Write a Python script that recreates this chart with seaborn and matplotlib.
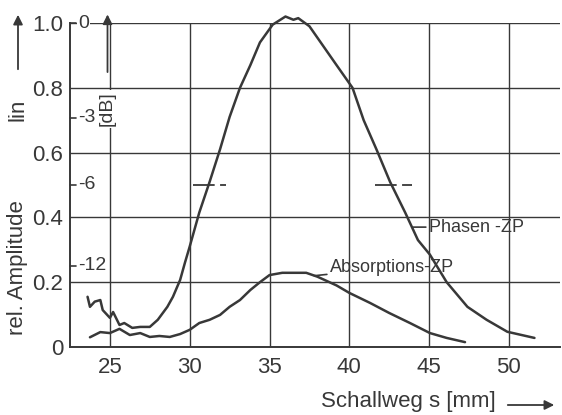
import numpy as np
import pandas as pd
import matplotlib
matplotlib.use("Agg")
import matplotlib.pyplot as plt
import seaborn as sns

# Phasen-ZP curve
phasen_s = [23.6, 23.75, 24.05, 24.4, 24.55, 25.0, 25.2, 25.6, 25.9, 26.4, 26.9, 27.5,
            28.0, 28.6, 28.95, 29.4, 29.7, 30.0, 30.6, 31.25, 31.9, 32.5, 33.15, 33.8,
            34.4, 35.2, 36.0, 36.5, 36.8, 37.5, 38.35, 39.2, 40.2, 40.9, 41.7, 42.55,
            43.5, 44.3, 45.05, 46.1, 47.4, 48.6, 49.9, 51.6]
phasen_a = [0.155, 0.124, 0.14, 0.145, 0.114, 0.09, 0.108, 0.068, 0.074, 0.059, 0.062, 0.062,
            0.084, 0.124, 0.155, 0.207, 0.26, 0.31, 0.415, 0.51, 0.61, 0.71, 0.80, 0.87,
            0.94, 0.995, 1.02, 1.01, 1.015, 0.99, 0.93, 0.87, 0.80, 0.70, 0.61, 0.51,
            0.415, 0.33, 0.285, 0.20, 0.124, 0.084, 0.047, 0.028]

# Absorptions-ZP curve
absorp_s = [23.75, 24.4, 25.0, 25.6, 26.25, 26.9, 27.5, 28.1, 28.75, 29.4, 30.0, 30.6,
            31.25, 31.9, 32.5, 33.15, 33.8, 34.4, 35.0, 35.8, 36.5, 37.3, 38.0, 39.2,
            40.0, 41.3, 42.5, 43.8, 45.05, 46.1, 47.25]
absorp_a = [0.03, 0.046, 0.043, 0.056, 0.037, 0.043, 0.031, 0.034, 0.031, 0.040, 0.053, 0.074,
            0.084, 0.099, 0.124, 0.145, 0.176, 0.20, 0.222, 0.229, 0.229, 0.229, 0.217, 0.19,
            0.167, 0.136, 0.105, 0.074, 0.043, 0.028, 0.015]

x_ticks = [25, 30, 35, 40, 45, 50]
y_ticks = [0, 0.2, 0.4, 0.6, 0.8, 1.0]
y_ticklabels = ["0", "0.2", "0.4", "0.6", "0.8", "1.0"]
db_labels = ["0", "-3", "-6", "-12"]
db_values = [0, -3, -6, -12]
halfwidth_left = [30.2, 32.3]
halfwidth_right = [41.6, 43.9]

sns.set_style("white")
plt.rcParams['font.family'] = ['Liberation Sans', 'DejaVu Sans']
ink = "#383838"

fig = plt.figure(figsize=(5.62, 4.15), dpi=100)
ax = fig.add_axes([70/562, 68/415, 490/562, 324/415])

df_p = pd.DataFrame({"s": phasen_s, "a": phasen_a})
df_a = pd.DataFrame({"s": absorp_s, "a": absorp_a})
sns.lineplot(data=df_p, x="s", y="a", ax=ax, color=ink, lw=1.8, sort=False, estimator=None)
sns.lineplot(data=df_a, x="s", y="a", ax=ax, color=ink, lw=1.8, sort=False, estimator=None)
for l in ax.lines:
    l.set_clip_on(False)

ax.set_xlim(22.5, 53.2)
ax.set_ylim(0, 1.0)
ax.set_xticks(x_ticks)
ax.set_yticks(y_ticks)
ax.set_yticklabels(y_ticklabels)
ax.set_yticks(np.arange(0.1, 1.0, 0.2), minor=True)
ax.grid(True, color=ink, lw=1.0)
ax.tick_params(axis="both", which="major", direction="out", length=4, width=1.2,
               color=ink, labelcolor=ink, labelsize=16, pad=3)
ax.tick_params(axis="y", which="minor", direction="out", length=3, width=1.5, color=ink)
ax.tick_params(axis="y", which="major", pad=1)
for side in ["top", "right"]:
    ax.spines[side].set_visible(False)
for side in ["left", "bottom"]:
    ax.spines[side].set_color(ink)
    ax.spines[side].set_linewidth(1.4)
ax.set_xlabel("")
ax.set_ylabel("")

# dB scale labels on the inside of the y-axis
for lab, db in zip(db_labels, db_values):
    yv = 10 ** (db / 20)
    ax.plot([22.5, 22.9], [yv, yv], color=ink, lw=1.2, clip_on=False)
    ax.text(23.0, yv, lab, color=ink, fontsize=14, va="center", ha="left",
            bbox=dict(facecolor="white", edgecolor="none", pad=0.5) if db == 0 else None)

# -6 dB half-width markers
ax.plot(halfwidth_left, [0.5, 0.5], color=ink, lw=1.3, ls=(0, (12, 3)))
ax.plot(halfwidth_right, [0.5, 0.5], color=ink, lw=1.3, ls=(0, (12, 3)))

# [dB] arrow and label
ax.annotate("", xy=(24.85, 1.035), xytext=(24.85, 0.84), xycoords="data",
            arrowprops=dict(arrowstyle="-|>", color=ink, lw=1.3, mutation_scale=14),
            annotation_clip=False)
ax.text(24.8, 0.735, "[dB]", rotation=90, color=ink, fontsize=14, va="center", ha="center",
        bbox=dict(facecolor="white", edgecolor="none", pad=1))

# curve labels
ax.annotate("Phasen -ZP", xy=(44.0, 0.37), xytext=(45.0, 0.37), color=ink, fontsize=13,
            va="center", ha="left",
            arrowprops=dict(arrowstyle="-", color=ink, lw=1.2, shrinkA=0, shrinkB=0))
ax.annotate("Absorptions-ZP", xy=(37.8, 0.22), xytext=(38.8, 0.245), color=ink, fontsize=13,
            va="center", ha="left",
            arrowprops=dict(arrowstyle="-", color=ink, lw=1.2, shrinkA=0, shrinkB=0))

# axis labels with arrows
fig.text(18/562, 1 - 268/415, "rel. Amplitude", rotation=90, color=ink, fontsize=16,
         va="center", ha="center")
fig.text(18/562, 1 - 110/415, "lin", rotation=90, color=ink, fontsize=16,
         va="center", ha="center")
fig.add_artist(matplotlib.patches.FancyArrowPatch((18/562, 1 - 72/415), (18/562, 1 - 12/415),
               transform=fig.transFigure, arrowstyle="-|>", mutation_scale=14, color=ink, lw=1.3))
fig.text(408/562, 1 - 401/415, "Schallweg s [mm]", color=ink, fontsize=16, va="center", ha="center")
fig.add_artist(matplotlib.patches.FancyArrowPatch((505/562, 1 - 405/415), (557/562, 1 - 405/415),
               transform=fig.transFigure, arrowstyle="-|>", mutation_scale=14, color=ink, lw=1.3))

fig.savefig("out.png", dpi=100)
